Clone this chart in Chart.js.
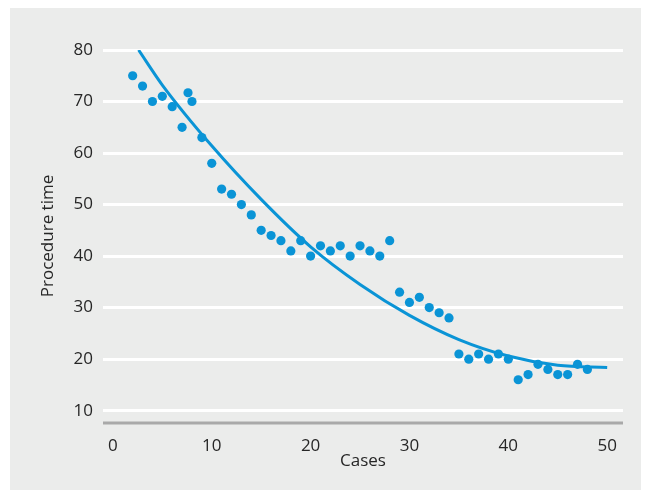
<!DOCTYPE html>
<html>
<head>
<meta charset="utf-8">
<script src="https://cdn.jsdelivr.net/npm/chart.js@4.4.0/dist/chart.umd.min.js"></script>
<style>
  html, body { margin: 0; padding: 0; background: #fff; }
</style>
</head>
<body>
<canvas id="chart" width="651" height="492"></canvas>
<script>
// cases (x) and procedure time (y)
const caseX = [2, 3, 4, 5, 6, 7, 7.6, 8, 9, 10, 11, 12, 13, 14, 15, 16, 17, 18, 19, 20,
    21, 22, 23, 24, 25, 26, 27, 28, 29, 30, 31, 32, 33, 34, 35, 36, 37, 38, 39, 40,
    41, 42, 43, 44, 45, 46, 47, 48];
const procTime = [75, 73, 70, 71, 69, 65, 71.7, 70, 63, 58, 53, 52, 50, 48, 45, 44, 43, 41, 43, 40,
    42, 41, 42, 40, 42, 41, 40, 43, 33, 31, 32, 30, 29, 28, 21, 20, 21, 20, 21, 20,
    16, 17, 19, 18, 17, 17, 19, 18];

// fitted curve
const curveX = [2.6, 5, 10, 15, 20, 25, 30, 35, 40, 45, 50];
const curveY = [80, 73.2, 61.4, 51.0, 41.8, 34.5, 28.5, 23.8, 20.6, 18.8, 18.4];

const xTicks = [0, 10, 20, 30, 40, 50];
const yTicks = [10, 20, 30, 40, 50, 60, 70, 80];

const blue = '#0a94d6';
const textCol = '#262626';

// grey panel behind the chart
const panelBg = {
    id: 'panelBg',
    beforeDraw(chart) {
        const ctx = chart.ctx;
        ctx.save();
        ctx.fillStyle = '#ebeceb';
        ctx.fillRect(10, 8, 631, 482);
        ctx.restore();
    }
};

// grey base line under the plot
const baseLine = {
    id: 'baseLine',
    afterDatasetsDraw(chart) {
        const ctx = chart.ctx, a = chart.chartArea;
        ctx.save();
        ctx.strokeStyle = '#a9a9a9';
        ctx.lineWidth = 3;
        ctx.beginPath();
        ctx.moveTo(a.left, a.bottom + 1);
        ctx.lineTo(a.right, a.bottom + 1);
        ctx.stroke();
        ctx.restore();
    }
};

const font = { family: 'Open Sans', size: 17 };

new Chart(document.getElementById('chart'), {
    type: 'scatter',
    data: {
        datasets: [{
            data: caseX.map((x, i) => ({ x: x, y: procTime[i] })),
            backgroundColor: blue,
            borderWidth: 0,
            pointRadius: 4.6,
            order: 1
        }, {
            type: 'line',
            data: curveX.map((x, i) => ({ x: x, y: curveY[i] })),
            borderColor: blue,
            borderWidth: 3,
            pointRadius: 0,
            fill: false,
            tension: 0.4,
            cubicInterpolationMode: 'monotone',
            order: 2
        }]
    },
    options: {
        responsive: false,
        animation: false,
        devicePixelRatio: 1,
        layout: { padding: { top: 50, right: 28, left: 0, bottom: 0 } },
        plugins: { legend: { display: false }, tooltip: { enabled: false } },
        scales: {
            x: {
                type: 'linear',
                min: -1,
                max: 51.6,
                afterBuildTicks: s => { s.ticks = xTicks.map(v => ({ value: v })); },
                afterFit: s => { s.height = 70; },
                grid: { display: false },
                border: { display: false },
                ticks: { color: textCol, font: font, padding: 6, maxRotation: 0 },
                title: { display: true, text: 'Cases', color: textCol, font: font, padding: { top: 0, bottom: 21 } }
            },
            y: {
                min: 7.8,
                max: 80,
                afterBuildTicks: s => { s.ticks = yTicks.map(v => ({ value: v })); },
                afterFit: s => { s.width = 103; },
                grid: { color: '#ffffff', lineWidth: 3, drawTicks: false },
                border: { display: false },
                ticks: { color: textCol, font: font, padding: 10 },
                title: { display: true, text: 'Procedure time', color: textCol, font: font, padding: { top: 38, bottom: 0 } }
            }
        }
    },
    plugins: [panelBg, baseLine]
});
</script>
</body>
</html>
